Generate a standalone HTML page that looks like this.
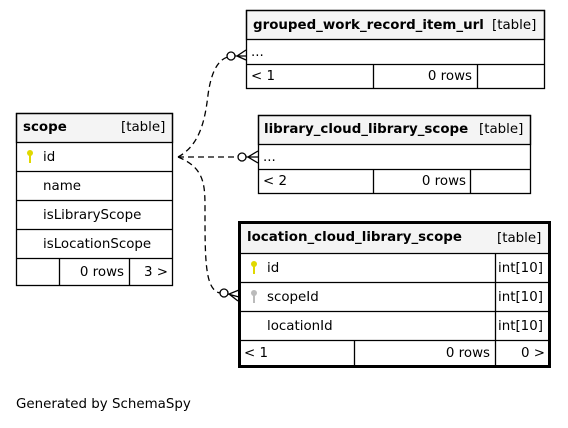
<!DOCTYPE html>
<html><head><style>
body{margin:0;background:#fff;}
svg text{font-family:"DejaVu Sans","Liberation Sans",sans-serif;font-size:13.4px;fill:#000;}
.b{font-weight:bold;}
</style></head><body>
<svg width="568" height="423" viewBox="0 0 568 423" xmlns="http://www.w3.org/2000/svg">
<g fill="none" stroke="#000" stroke-width="1.3">
<rect x="16.5" y="113.5" width="156" height="29" fill="#f4f4f4"/>
<rect x="16.5" y="113.5" width="156" height="172"/>
<path d="M16.5 171.5H172.5M16.5 200.5H172.5M16.5 229.5H172.5M16.5 258.5H172.5M59.5 258.5V285.5M129.5 258.5V285.5"/>
<rect x="246.5" y="10.5" width="298" height="29" fill="#f4f4f4"/>
<rect x="246.5" y="10.5" width="298" height="78"/>
<path d="M246.5 64.5H544.5M373.5 64.5V88.5M477.5 64.5V88.5"/>
<rect x="258.5" y="115.5" width="272" height="29" fill="#f4f4f4"/>
<rect x="258.5" y="115.5" width="272" height="78"/>
<path d="M258.5 169.5H530.5M373.5 169.5V193.5M470.5 169.5V193.5"/>
<rect x="239.5" y="222.5" width="310" height="31" fill="#f4f4f4" stroke-width="1"/>
<path d="M239.5 253.5H549.5M239.5 282.5H549.5M239.5 311.5H549.5M239.5 340.5H549.5M495.5 253.5V366M354.5 340.5V366"/>
<rect x="239.5" y="222.5" width="310" height="144" stroke-width="3"/>
<g stroke-dasharray="6,4">
<path d="M178 157 C200 145 205 120 208 95 C212 65 222 56 234 56"/>
<path d="M178 157 H238"/>
<path d="M178 157 C205 168 205 185 205 210 C205 260 205 290 220 293"/>
</g>
<circle cx="231" cy="56" r="4" fill="#fff"/>
<circle cx="242" cy="157" r="4" fill="#fff"/>
<circle cx="224" cy="293" r="4" fill="#fff"/>
<path d="M235 56H246M246 50L237 56L246 60"/>
<path d="M246 157H258M258 151L248 157L258 163"/>
<path d="M228 294L239 297M239 290L229 294L238 301"/>
</g>
<g>
<circle cx="30" cy="153" r="3" fill="#e0d800"/><rect x="29" y="154" width="2" height="9" fill="#e0d800"/>
<circle cx="254" cy="264" r="3" fill="#e0d800"/><rect x="253" y="265" width="2" height="9" fill="#e0d800"/>
<circle cx="254" cy="293" r="3" fill="#bbb"/><rect x="253" y="294" width="2" height="9" fill="#bbb"/>
</g>
<text x="23" y="131" class="b">scope</text><text x="121" y="131">[table]</text>
<text x="43" y="161">id</text>
<text x="43" y="190">name</text>
<text x="43" y="219">isLibraryScope</text>
<text x="43" y="248">isLocationScope</text>
<text x="124" y="276" text-anchor="end">0 rows</text>
<text x="168" y="276" text-anchor="end">3 &gt;</text>

<text x="253" y="29" class="b">grouped_work_record_item_url</text><text x="492" y="29">[table]</text>
<text x="251" y="56">...</text>
<text x="251" y="80">&lt; 1</text>
<text x="472" y="80" text-anchor="end">0 rows</text>

<text x="264" y="133" class="b">library_cloud_library_scope</text><text x="479" y="133">[table]</text>
<text x="263" y="161">...</text>
<text x="263" y="185">&lt; 2</text>
<text x="466" y="185" text-anchor="end">0 rows</text>

<text x="247" y="241" class="b">location_cloud_library_scope</text><text x="497" y="242">[table]</text>
<text x="267" y="272">id</text><text x="498" y="272">int[10]</text>
<text x="267" y="301">scopeId</text><text x="498" y="301">int[10]</text>
<text x="267" y="330">locationId</text><text x="498" y="330">int[10]</text>
<text x="244" y="357">&lt; 1</text>
<text x="490" y="357" text-anchor="end">0 rows</text>
<text x="545" y="357" text-anchor="end">0 &gt;</text>

<text x="16" y="408">Generated by SchemaSpy</text>
</svg>
</body></html>
